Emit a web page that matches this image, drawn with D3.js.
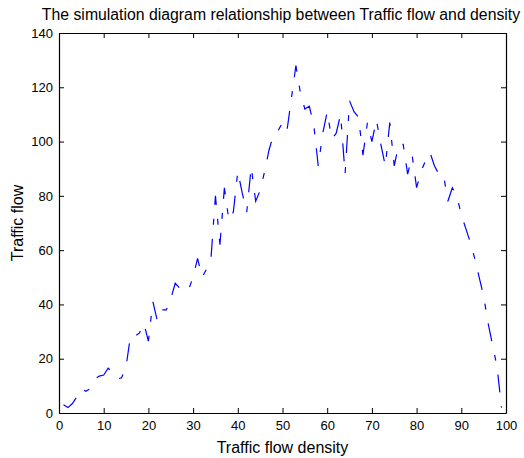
<!DOCTYPE html>
<html>
<head>
<meta charset="utf-8">
<script src="https://cdn.jsdelivr.net/npm/d3@7"></script>
<style>
  body { margin: 0; background: #fff; }
  text { font-family: "Liberation Sans", Arial, sans-serif; fill: #000; }
</style>
</head>
<body>
<div id="chart"></div>
<script>
// chart data
var density = d3.range(1, 100);
var flow = [3, 2, 3.5, 6, 9, 8, 9, 12.5, 13.6, 14,
  16.5, 15, 12.5, 13, 17, 28.5, 28.3, 29.5, 33, 26.5,
  41, 34, 38, 38, 42, 47.8, 46, 44.7, 45.5, 50,
  57, 50, 53, 57, 80, 62, 83, 71, 74, 89,
  81, 74, 90.7, 78, 82, 89, 97, 102.5, 104, 107,
  104, 116, 128, 118, 112, 113, 106, 91, 103, 111,
  101, 103, 110, 88, 115, 111, 109, 95, 107, 100,
  108, 99, 91, 107, 91, 99, 99, 88, 95, 83,
  89, 93, 96, 91, 88, 88, 78, 83, 80, 73,
  68, 63, 57, 50, 43, 33, 25, 17, 2];
var xTicks = d3.range(0, 101, 10);
var yTicks = d3.range(0, 141, 20);

var svgWidth = 524,
  svgHeight = 458;

var margin = { t: 33, r: 18, b: 45, l: 59 };

var width = svgWidth - margin.l - margin.r,
  height = svgHeight - margin.t - margin.b;

var svg = d3.select('#chart')
  .append('svg')
  .attr('width', svgWidth)
  .attr('height', svgHeight);

var chartGroup = svg.append('g')
  .attr('transform', `translate(${margin.l},${margin.t})`);

var xScale = d3.scaleLinear().domain([0, 100]).range([0, width]);
var yScale = d3.scaleLinear().domain([0, 140]).range([height, 0]);

// matlab style: ticks pointing inwards on every side
function styleAxis(g) {
  g.select('.domain').attr('stroke', '#000');
  g.selectAll('.tick line').attr('stroke', '#000');
  g.selectAll('.tick text').style('font-size', '13px');
}

chartGroup.append('g')
  .attr('transform', `translate(0,${height})`)
  .call(d3.axisBottom(xScale).tickValues(xTicks).tickSizeInner(-5).tickSizeOuter(0).tickPadding(8))
  .call(styleAxis);

chartGroup.append('g')
  .call(d3.axisTop(xScale).tickValues(xTicks).tickSizeInner(-5).tickSizeOuter(0).tickFormat(''))
  .call(styleAxis);

chartGroup.append('g')
  .call(d3.axisLeft(yScale).tickValues(yTicks).tickSizeInner(-5).tickSizeOuter(0).tickPadding(6))
  .call(styleAxis);

chartGroup.append('g')
  .attr('transform', `translate(${width},0)`)
  .call(d3.axisRight(yScale).tickValues(yTicks).tickSizeInner(-5).tickSizeOuter(0).tickFormat(''))
  .call(styleAxis);

chartGroup.selectAll('.domain').attr('stroke-width', 1.2);

// the dashed flow curve
var line = d3.line()
  .x((d, i) => xScale(density[i]))
  .y(d => yScale(d));

chartGroup.append('path')
  .datum(flow)
  .attr('d', line)
  .attr('fill', 'none')
  .attr('stroke', '#0000ff')
  .attr('stroke-width', 1.2)
  .attr('stroke-dasharray', '18,14,6,14');

// titles
svg.append('text')
  .attr('x', 281)
  .attr('y', 20)
  .attr('text-anchor', 'middle')
  .style('font-size', '15.8px')
  .text('The simulation diagram relationship between Traffic flow and density');

svg.append('text')
  .attr('x', margin.l + width / 2)
  .attr('y', 453)
  .attr('text-anchor', 'middle')
  .style('font-size', '16px')
  .text('Traffic flow density');

svg.append('text')
  .attr('transform', `translate(23,${margin.t + height / 2})rotate(-90)`)
  .attr('text-anchor', 'middle')
  .style('font-size', '16px')
  .text('Traffic flow');
</script>
</body>
</html>
